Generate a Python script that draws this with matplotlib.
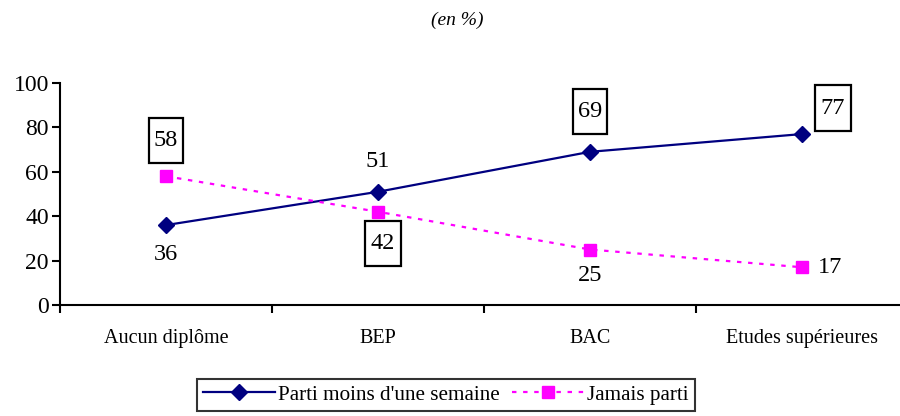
import numpy as np
import matplotlib
matplotlib.use("Agg")
from matplotlib import pyplot as plt
from matplotlib.path import Path

# données (en %)
categories = ["Aucun diplôme", "BEP", "BAC", "Etudes supérieures"]
parti_moins_semaine = [36, 51, 69, 77]
jamais_parti = [58, 42, 25, 17]
serie_noms = ["Parti moins d'une semaine", "Jamais parti"]

plt.rcParams['font.family'] = ['Liberation Serif', 'DejaVu Serif']

fig = plt.figure(figsize=(9, 4.16), dpi=100)
ax = fig.add_axes([60 / 900, 1 - 305 / 416, 848 / 900, 222 / 416])

x = np.arange(len(categories))
ax.plot(x, parti_moins_semaine, color='#000080', lw=1.6, marker='D', ms=8,
        label=serie_noms[0])
ax.plot(x, jamais_parti, color='#FF00FF', lw=1.6, ls=(0, (2, 3)), marker='s', ms=9,
        label=serie_noms[1])

# cadre plus haut que large, comme dans Excel
def cadre_haut(x0, y0, width, height, mutation_size):
    px = 0.22 * mutation_size
    py = 0.5 * mutation_size
    x0, y0 = x0 - px, y0 - py
    x1, y1 = x0 + width + 2 * px, y0 + height + 2 * py
    return Path([(x0, y0), (x1, y0), (x1, y1), (x0, y1), (x0, y0)], closed=True)

box = dict(boxstyle=cadre_haut, fc='white', ec='black', lw=1.6)
fs = 17.5
def etiquette(val, xi, dx, dy, cadre=False):
    ax.annotate(str(val), (xi, val), xytext=(dx, dy), textcoords='offset pixels',
                ha='center', va='center', fontsize=fs, bbox=box if cadre else None)

etiquette(parti_moins_semaine[0], x[0], 0, -29)
etiquette(jamais_parti[0], x[0], 0, 36, True)
etiquette(parti_moins_semaine[1], x[1], 0, 30)
etiquette(jamais_parti[1], x[1], 5, -32, True)
etiquette(parti_moins_semaine[2], x[2], 0, 40, True)
etiquette(jamais_parti[2], x[2], 0, -26)
etiquette(parti_moins_semaine[3], x[3], 31, 26, True)
etiquette(jamais_parti[3], x[3], 28, 0)

# axes
ax.set_xlim(-0.5, 3.5)
ax.set_ylim(0, 100)
ax.set_yticks(range(0, 101, 20))
ax.set_xticks(x)
ax.set_xticklabels(categories, fontsize=14.5)
ax.set_xticks(np.arange(-0.5, 3.6, 1), minor=True)
ax.tick_params(axis='x', which='major', length=0, pad=17)
ax.tick_params(axis='x', which='minor', length=6, width=1.5, direction='out')
ax.tick_params(axis='y', length=6, width=1.5, labelsize=17, pad=2)
ax.spines['top'].set_visible(False)
ax.spines['right'].set_visible(False)
ax.spines['left'].set_linewidth(1.5)
ax.spines['bottom'].set_linewidth(1.5)

fig.text(457 / 900, 1 - 20 / 416, "(en %)", ha='center', va='center',
         fontsize=14, style='italic')

leg = fig.legend(loc='center', bbox_to_anchor=(446 / 900, 1 - 395 / 416), ncol=2,
                 fontsize=15.2, frameon=True, fancybox=False, edgecolor='black',
                 handlelength=3.4, columnspacing=0.6, handletextpad=0.15,
                 borderpad=0.3, borderaxespad=0)
leg.get_frame().set_linewidth(1.5)

fig.savefig("out.png", dpi=100)
